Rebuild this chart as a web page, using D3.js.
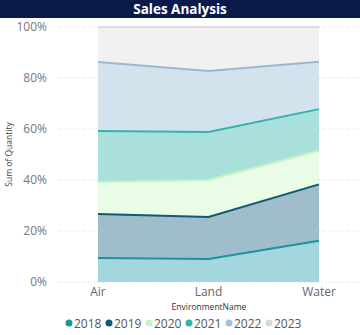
<!DOCTYPE html>
<html>
<head>
<meta charset="utf-8">
<script src="https://cdn.jsdelivr.net/npm/d3@7"></script>
<style>
  body { margin: 0; background: #fff; }
  svg { display: block; font-family: "Segoe UI", "Open Sans", sans-serif; }
</style>
</head>
<body>
<div id="chart"></div>
<script>
const categories = ['Air', 'Land', 'Water'];
const years = ['2018', '2019', '2020', '2021', '2022', '2023'];
// share of quantity per year
const v2018 = [9.4, 9.0, 16.2];
const v2019 = [17.3, 16.5, 22.1];
const v2020 = [12.5, 14.5, 13.2];
const v2021 = [20.0, 18.8, 16.3];
const v2022 = [27.1, 23.9, 18.6];
const v2023 = [13.7, 17.3, 13.6];
const yTicks = [0, 0.2, 0.4, 0.6, 0.8, 1];

const lineColors = ['#1b93a0', '#0e5a72', '#c8f2c2', '#33b3ae', '#9bb8d2', '#dcdcdc'];
const fillColors = ['#a3d6de', '#9fbdca', '#e8fce6', '#a9e0dc', '#d3e3ee', '#f1f1f1'];
const dotColors  = ['#1b93a0', '#0e5a72', '#c8f2c2', '#33b3ae', '#a5bfd8', '#d9d9d9'];

const width = 360, height = 335;
const margin = {top: 27, left: 98, right: 41, bottom: 53};

const series = [v2018, v2019, v2020, v2021, v2022, v2023];
const rows = categories.map((c, i) => {
  const r = {cat: c};
  years.forEach((y, k) => r[y] = series[k][i]);
  return r;
});

const stack = d3.stack().keys(years).offset(d3.stackOffsetExpand);
const layers = stack(rows);

const svg = d3.select('#chart').append('svg')
  .attr('width', width)
  .attr('height', height);

// title bar
svg.append('rect').attr('x', 0).attr('y', 0).attr('width', width).attr('height', 18).attr('fill', '#0c1a4b');
svg.append('text')
  .attr('x', 180).attr('y', 13.5)
  .attr('text-anchor', 'middle')
  .attr('fill', '#fff')
  .attr('font-size', 13.5)
  .attr('font-weight', 'bold')
  .text('Sales Analysis');

const x = d3.scalePoint().domain(categories).range([margin.left, width - margin.right]);
const y = d3.scaleLinear().domain([0, 1]).range([height - margin.bottom, margin.top]);

// gridlines, dotted
svg.append('g').selectAll('line').data(yTicks).join('line')
  .attr('x1', 58).attr('x2', width)
  .attr('y1', d => y(d)).attr('y2', d => y(d))
  .attr('stroke', '#d6d6d6')
  .attr('stroke-dasharray', '1,2');

// y tick labels
svg.append('g').selectAll('text').data(yTicks).join('text')
  .attr('x', 47).attr('y', d => y(d) + 4)
  .attr('text-anchor', 'end')
  .attr('font-size', 12)
  .attr('fill', '#777')
  .text(d => d3.format('.0%')(d));

svg.append('text')
  .attr('transform', 'translate(12,' + y(0.5) + ') rotate(-90)')
  .attr('text-anchor', 'middle')
  .attr('font-size', 8.5)
  .attr('fill', '#444')
  .text('Sum of Quantity');

const area = d3.area()
  .x(d => x(d.data.cat))
  .y0(d => y(d[0]))
  .y1(d => y(d[1]));
const line = d3.line()
  .x(d => x(d.data.cat))
  .y(d => y(d[1]));

svg.append('g').selectAll('path').data(layers).join('path')
  .attr('d', area)
  .attr('fill', (d, i) => fillColors[i]);

svg.append('g').selectAll('path').data(layers).join('path')
  .attr('d', line)
  .attr('fill', 'none')
  .attr('stroke', (d, i) => lineColors[i])
  .attr('stroke-width', 2);

// x labels
svg.append('g').selectAll('text').data(categories).join('text')
  .attr('x', d => x(d)).attr('y', 295.5)
  .attr('text-anchor', 'middle')
  .attr('font-size', 12)
  .attr('fill', '#666')
  .text(d => d);

svg.append('text')
  .attr('x', 209).attr('y', 310)
  .attr('text-anchor', 'middle')
  .attr('font-size', 8.5)
  .attr('fill', '#333')
  .text('EnvironmentName');

// legend
const leg = svg.append('g').selectAll('g').data(years).join('g')
  .attr('transform', (d, i) => 'translate(' + (69 + i * 40) + ',323)');
leg.append('circle').attr('r', 3.5).attr('fill', (d, i) => dotColors[i]);
leg.append('text')
  .attr('x', 5).attr('y', 4.5)
  .attr('font-size', 12)
  .attr('fill', '#555')
  .text(d => d);
</script>
</body>
</html>
